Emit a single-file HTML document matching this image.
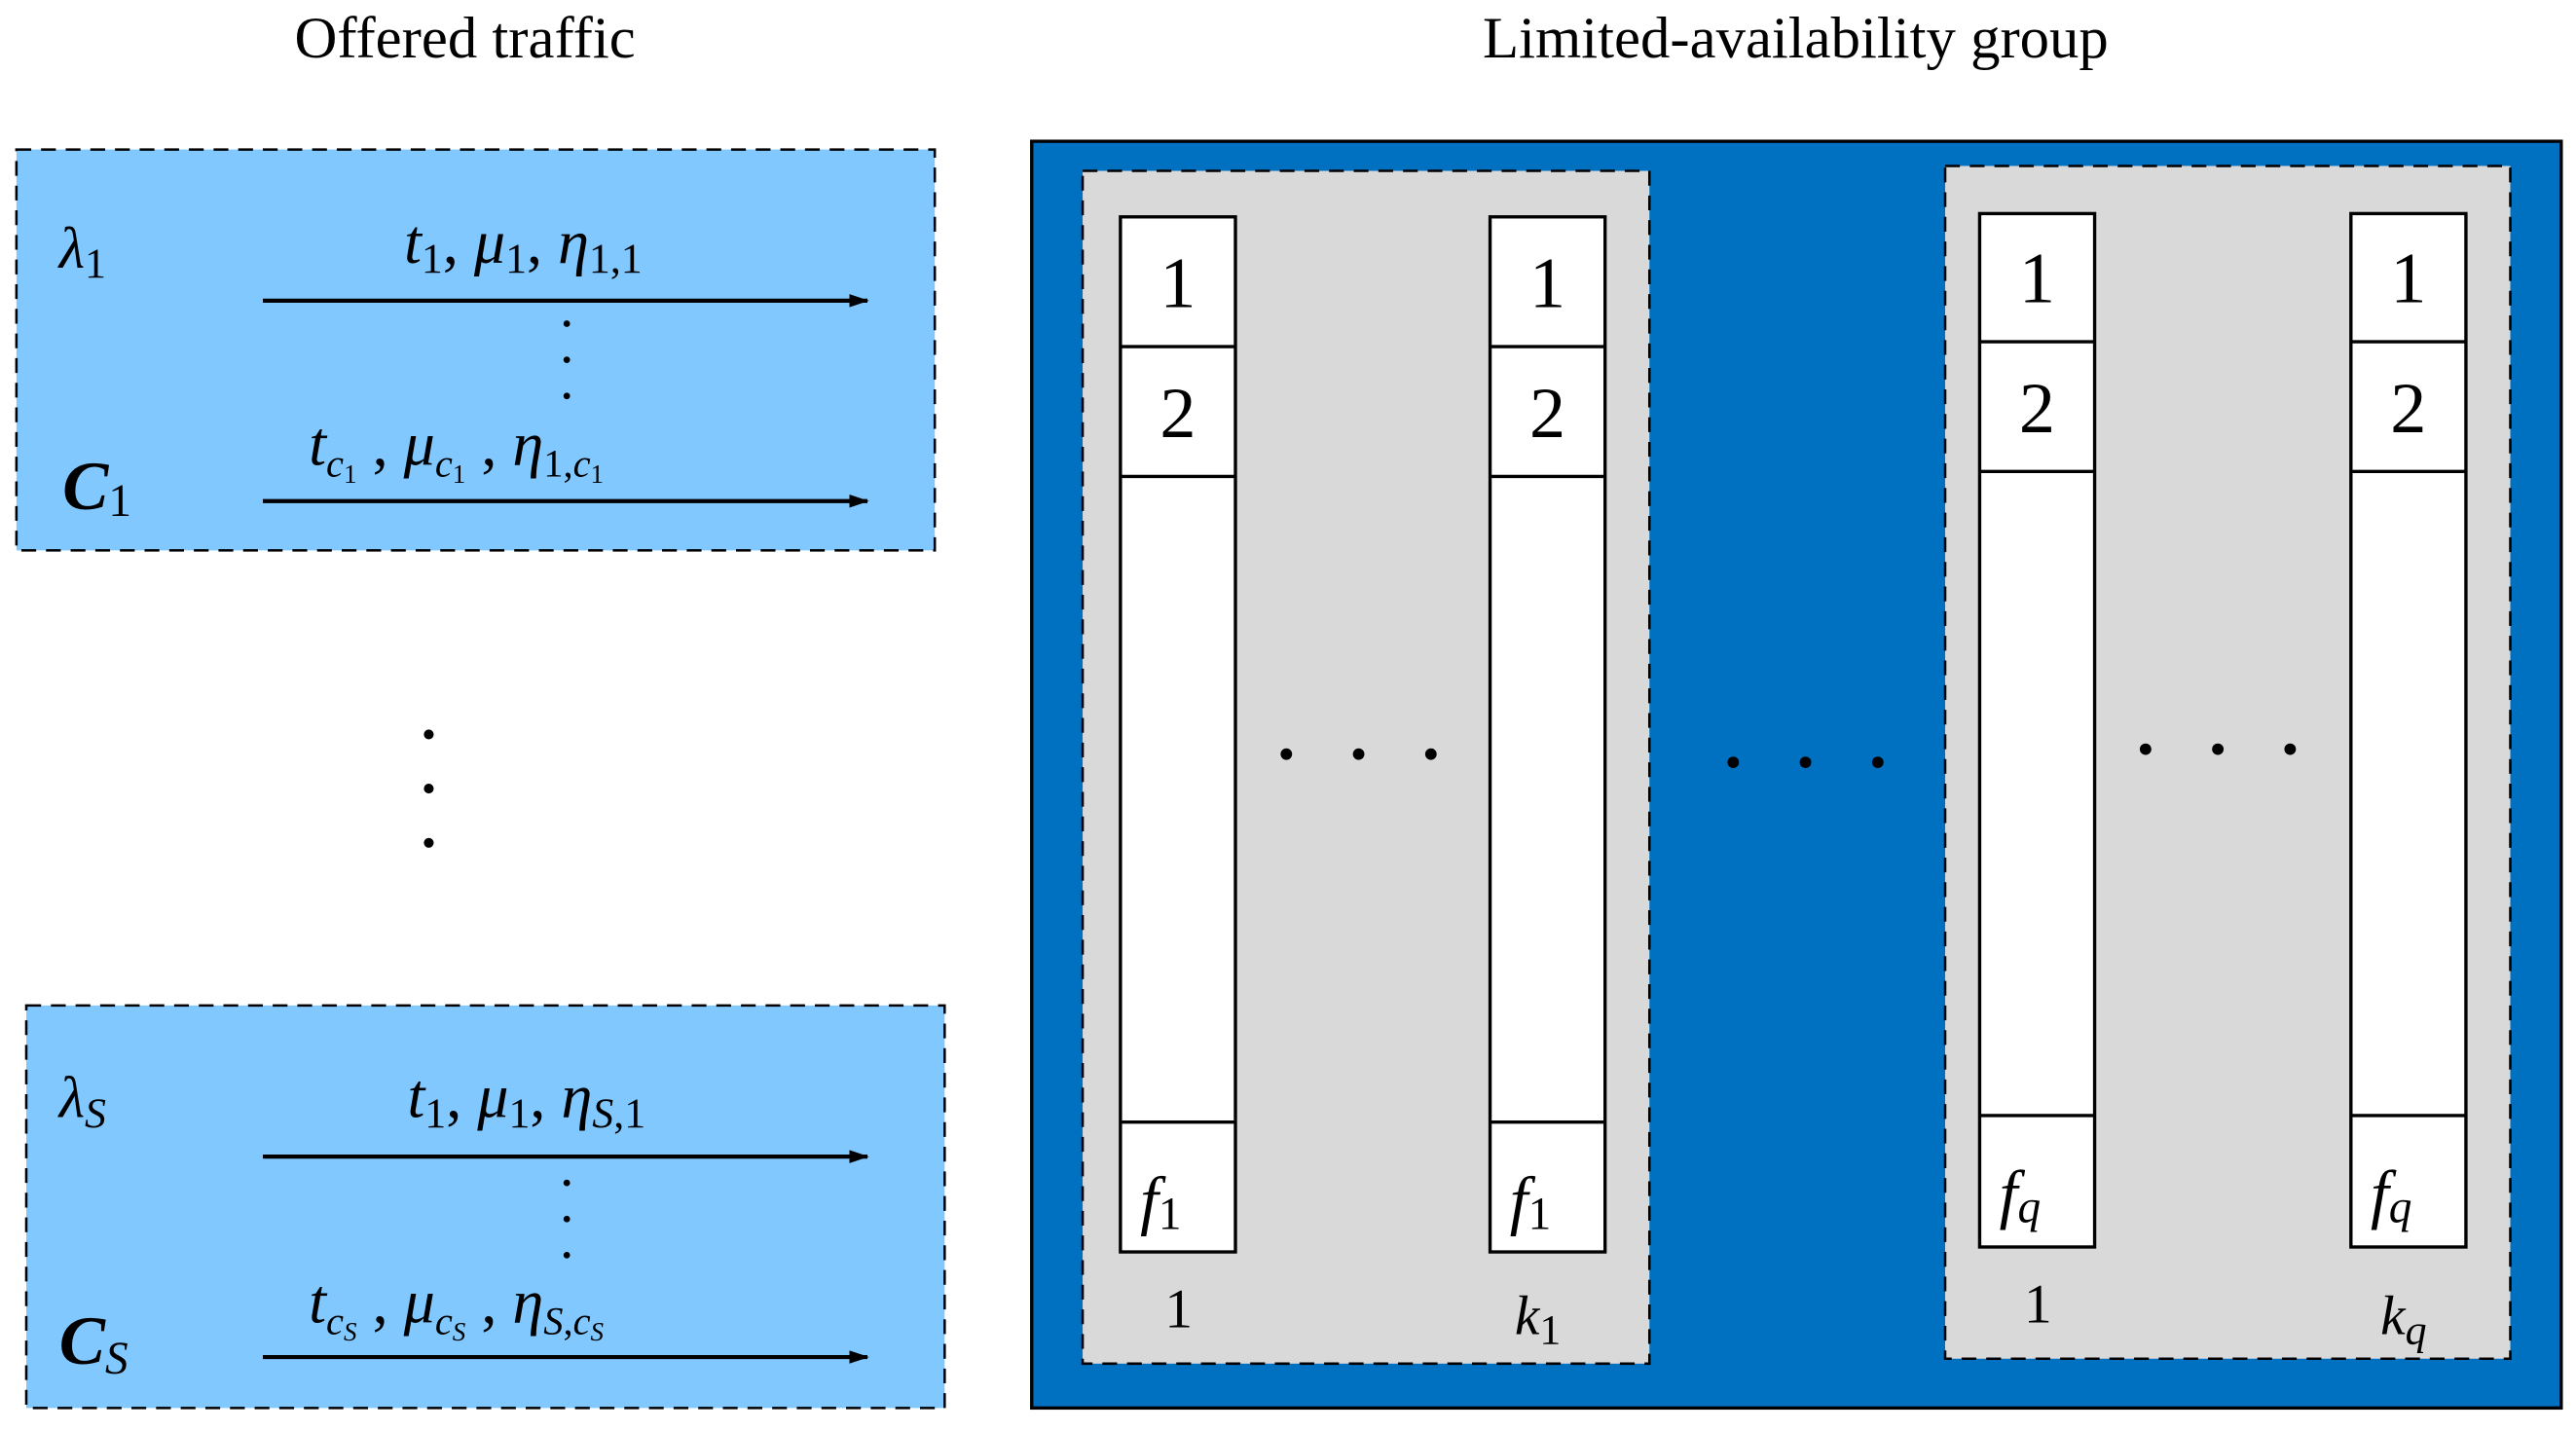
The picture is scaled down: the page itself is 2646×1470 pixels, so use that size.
<!DOCTYPE html>
<html><head><meta charset="utf-8"><style>
html,body{margin:0;padding:0;background:#fff;}
svg{display:block;}
text{font-family:"Liberation Serif",serif;}
.m{font-style:italic;}
</style></head><body>
<svg width="2646" height="1470" viewBox="0 0 1568 871" preserveAspectRatio="none" xmlns="http://www.w3.org/2000/svg">
<defs><marker id="ah" markerWidth="12" markerHeight="8" refX="11" refY="4" orient="auto" markerUnits="userSpaceOnUse"><path d="M0,0 L12,4 L0,8 z" fill="#000"/></marker></defs>
<text x="283" y="35" font-size="36" text-anchor="middle">Offered traffic</text>
<text x="1093" y="35" font-size="36" text-anchor="middle">Limited-availability group</text>

<!-- box 1 -->
<rect x="10" y="91" width="559" height="244" fill="#80c8ff" stroke="#000" stroke-width="1.5" stroke-dasharray="9,6"/>
<text x="36" y="163" font-size="36" class="m">λ<tspan font-size="26" font-style="normal" dy="6">1</tspan></text>
<text x="246" y="160" font-size="38" class="m">t<tspan font-size="26" font-style="normal" dy="6">1</tspan><tspan dy="-6" font-style="normal">, </tspan>μ<tspan font-size="26" font-style="normal" dy="6">1</tspan><tspan dy="-6" font-style="normal">, </tspan>η<tspan font-size="26" font-style="normal" dy="6">1,1</tspan></text>
<line x1="160" y1="183" x2="528" y2="183" stroke="#000" stroke-width="2.5" marker-end="url(#ah)"/>
<circle cx="345" cy="197" r="2" fill="#000"/><circle cx="345" cy="219" r="2" fill="#000"/><circle cx="345" cy="241" r="2" fill="#000"/>
<text x="188" y="283" font-size="38" class="m">t<tspan font-size="24" dy="7">c</tspan><tspan font-size="16" font-style="normal" dy="4">1</tspan><tspan dy="-11" font-style="normal">  , </tspan>μ<tspan font-size="24" dy="7">c</tspan><tspan font-size="16" font-style="normal" dy="4">1</tspan><tspan dy="-11" font-style="normal">  , </tspan>η<tspan font-size="24" font-style="normal" dy="7">1,</tspan><tspan font-size="24" dy="0">c</tspan><tspan font-size="16" font-style="normal" dy="4">1</tspan></text>
<text x="38" y="310" font-size="42" font-weight="bold" class="m">C<tspan font-size="28" font-weight="normal" font-style="normal" dy="4">1</tspan></text>
<line x1="160" y1="305" x2="528" y2="305" stroke="#000" stroke-width="2.5" marker-end="url(#ah)"/>

<circle cx="261" cy="447" r="3" fill="#000"/><circle cx="261" cy="480" r="3" fill="#000"/><circle cx="261" cy="513" r="3" fill="#000"/>

<!-- box 2 -->
<rect x="16" y="612" width="559" height="245" fill="#80c8ff" stroke="#000" stroke-width="1.5" stroke-dasharray="9,6"/>
<text x="36" y="680" font-size="36" class="m">λ<tspan font-size="26" dy="6">S</tspan></text>
<text x="248" y="680" font-size="38" class="m">t<tspan font-size="26" font-style="normal" dy="6">1</tspan><tspan dy="-6" font-style="normal">, </tspan>μ<tspan font-size="26" font-style="normal" dy="6">1</tspan><tspan dy="-6" font-style="normal">, </tspan>η<tspan font-size="26" dy="6">S</tspan><tspan font-size="26" font-style="normal">,1</tspan></text>
<line x1="160" y1="704" x2="528" y2="704" stroke="#000" stroke-width="2.5" marker-end="url(#ah)"/>
<circle cx="345" cy="720" r="2" fill="#000"/><circle cx="345" cy="742" r="2" fill="#000"/><circle cx="345" cy="764" r="2" fill="#000"/>
<text x="188" y="805" font-size="38" class="m">t<tspan font-size="24" dy="7">c</tspan><tspan font-size="16" dy="4">S</tspan><tspan dy="-11" font-style="normal">  , </tspan>μ<tspan font-size="24" dy="7">c</tspan><tspan font-size="16" dy="4">S</tspan><tspan dy="-11" font-style="normal">  , </tspan>η<tspan font-size="24" dy="7">S</tspan><tspan font-size="24" font-style="normal">,</tspan><tspan font-size="24">c</tspan><tspan font-size="16" dy="4">S</tspan></text>
<text x="36" y="830" font-size="42" font-weight="bold" class="m">C<tspan font-size="28" font-weight="normal" dy="6">S</tspan></text>
<line x1="160" y1="826" x2="528" y2="826" stroke="#000" stroke-width="2.5" marker-end="url(#ah)"/>

<!-- LAG -->
<rect x="628" y="86" width="931" height="771" fill="#0070c0" stroke="#000" stroke-width="2"/>
<rect x="659" y="104" width="345" height="726" fill="#d9d9d9" stroke="#000" stroke-width="1.5" stroke-dasharray="9,6"/>
<rect x="1184" y="101" width="344" height="726" fill="#d9d9d9" stroke="#000" stroke-width="1.5" stroke-dasharray="9,6"/>

<g stroke="#000" stroke-width="2" fill="#fff">
<rect x="682" y="132" width="70" height="630"/><line x1="682" y1="211" x2="752" y2="211"/><line x1="682" y1="290" x2="752" y2="290"/><line x1="682" y1="683" x2="752" y2="683"/>
<rect x="907" y="132" width="70" height="630"/><line x1="907" y1="211" x2="977" y2="211"/><line x1="907" y1="290" x2="977" y2="290"/><line x1="907" y1="683" x2="977" y2="683"/>
<rect x="1205" y="130" width="70" height="629"/><line x1="1205" y1="208" x2="1275" y2="208"/><line x1="1205" y1="287" x2="1275" y2="287"/><line x1="1205" y1="679" x2="1275" y2="679"/>
<rect x="1431" y="130" width="70" height="629"/><line x1="1431" y1="208" x2="1501" y2="208"/><line x1="1431" y1="287" x2="1501" y2="287"/><line x1="1431" y1="679" x2="1501" y2="679"/>
</g>
<g font-size="44" text-anchor="middle">
<text x="717" y="187">1</text><text x="717" y="266">2</text>
<text x="942" y="187">1</text><text x="942" y="266">2</text>
<text x="1240" y="184">1</text><text x="1240" y="263">2</text>
<text x="1466" y="184">1</text><text x="1466" y="263">2</text>
</g>
<g font-size="40" class="m">
<text x="694" y="744">f<tspan font-size="28" font-style="normal" dy="4">1</tspan></text>
<text x="919" y="744">f<tspan font-size="28" font-style="normal" dy="4">1</tspan></text>
<text x="1217" y="740">f<tspan font-size="28" dy="4">q</tspan></text>
<text x="1443" y="740">f<tspan font-size="28" dy="4">q</tspan></text>
</g>
<g font-size="34">
<text x="709" y="808">1</text>
<text x="922" y="812" class="m">k<tspan font-size="26" font-style="normal" dy="6">1</tspan></text>
<text x="1232" y="805">1</text>
<text x="1449" y="812" class="m">k<tspan font-size="26" dy="6">q</tspan></text>
</g>
<g fill="#000">
<circle cx="783" cy="459" r="3.5"/><circle cx="827" cy="459" r="3.5"/><circle cx="871" cy="459" r="3.5"/>
<circle cx="1055" cy="464" r="3.5"/><circle cx="1099" cy="464" r="3.5"/><circle cx="1143" cy="464" r="3.5"/>
<circle cx="1306" cy="456" r="3.5"/><circle cx="1350" cy="456" r="3.5"/><circle cx="1394" cy="456" r="3.5"/>
</g>
</svg>
</body></html>
